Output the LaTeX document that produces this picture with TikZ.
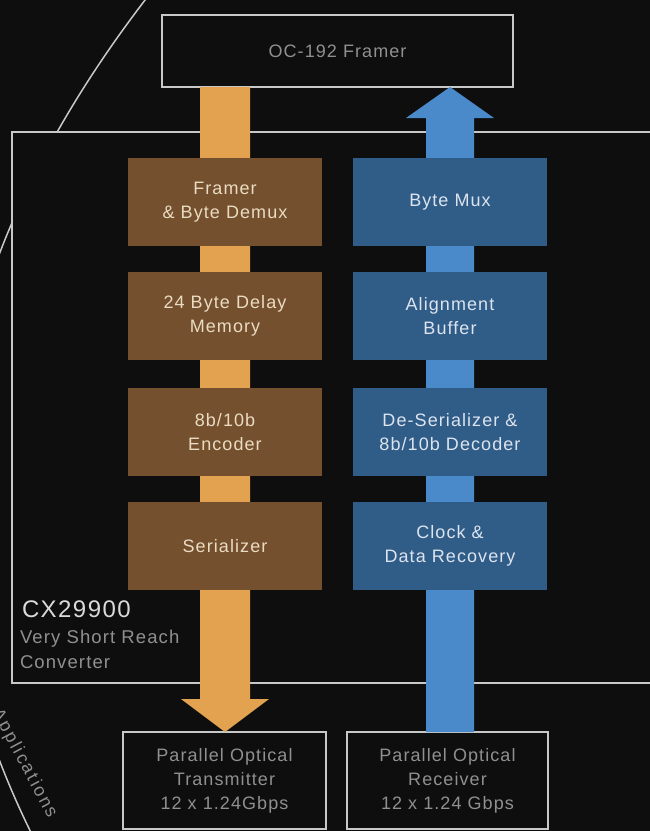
\documentclass[tikz,border=0pt]{standalone}
\usepackage{fontspec}
\setmainfont{Liberation Sans}
\newfontfamily\spacedfont[LetterSpace=6]{Liberation Sans}
\newfontfamily\widefont[LetterSpace=12]{Liberation Sans}
\usetikzlibrary{calc}
\pgfdeclarelayer{back}
\pgfdeclarelayer{mid}
\pgfsetlayers{back,mid,main}
\definecolor{bgc}{HTML}{0E0E0E}
\definecolor{linec}{HTML}{C8C8C8}
\definecolor{brownc}{HTML}{74502E}
\definecolor{browntext}{HTML}{EADCC2}
\definecolor{orangec}{HTML}{E2A24F}
\definecolor{bluec}{HTML}{305C88}
\definecolor{bluetext}{HTML}{DCE4EE}
\definecolor{bluearrowc}{HTML}{4A8ACB}
\definecolor{grayc}{HTML}{909090}
\definecolor{lightgrayc}{HTML}{DADADA}
\begin{document}
\begin{tikzpicture}[x=1pt,y=-1pt,
  every node/.style={inner sep=0pt, outer sep=0pt},
  outlinebox/.style={draw=linec, line width=1.3pt, fill=bgc},
  blockbox/.style={minimum width=194pt, minimum height=88pt, align=center,
    font=\spacedfont\fontsize{18}{24}\selectfont},
  brownbox/.style={blockbox, fill=brownc, text=browntext},
  bluebox/.style={blockbox, fill=bluec, text=bluetext},
  graylabel/.style={text=grayc, align=center, font=\spacedfont\fontsize{18}{24}\selectfont},
]
\useasboundingbox (0,0) rectangle (650,831);
\begin{pgfonlayer}{back}
\fill[bgc] (0,0) rectangle (650,831);
\begin{scope}
  \clip (0,0) rectangle (650,831);
  \draw[linec, line width=1.5pt] plot[domain=-5.3:3.5, samples=80, smooth] ({-49+7.55*\x*\x}, {507+100*\x});
  \node[rotate=-62, anchor=mid west, text=grayc, font=\widefont\fontsize{18}{20}\selectfont] (apps) at (-6,711) {Applications};
  \node[outlinebox, anchor=north west, minimum width=690pt, minimum height=551pt] (chip) at (12,132) {};
\end{scope}
\node[outlinebox, minimum width=351pt, minimum height=72pt, graylabel] (oc) at (337.5,51) {OC-192 Framer};
\node[outlinebox, minimum width=203pt, minimum height=97pt, graylabel] (tx) at (224.5,780.5) {Parallel Optical\\Transmitter\\12 x 1.24Gbps};
\node[outlinebox, minimum width=201pt, minimum height=97pt, graylabel] (rx) at (447.5,780.5) {Parallel Optical\\Receiver\\12 x 1.24 Gbps};
\end{pgfonlayer}

% blocks
\node[brownbox] (fr) at (225,202) {Framer\\\& Byte Demux};
\node[brownbox] (dl) at (225,316) {24 Byte Delay\\Memory};
\node[brownbox] (en) at (225,432) {8b/10b\\Encoder};
\node[brownbox] (se) at (225,546) {Serializer};
\node[bluebox] (bm) at (450,202) {Byte Mux};
\node[bluebox] (ab) at (450,316) {Alignment\\Buffer};
\node[bluebox] (de) at (450,432) {De-Serializer \&\\8b/10b Decoder};
\node[bluebox] (cd) at (450,546) {Clock \&\\Data Recovery};

% arrows behind the blocks
\begin{pgfonlayer}{mid}
\coordinate (oa) at (fr.north |- oc.south);
\coordinate (ob) at (fr.south |- tx.north);
\coordinate (ba) at (bm.north |- oc.south);
\coordinate (bb) at (bm.south |- rx.north);
\fill[orangec] ($(oa)+(-25,0)$) -- ($(oa)+(25,0)$) -- ($(ob)+(25,-33)$) -- ($(ob)+(44,-33)$)
  -- (ob) -- ($(ob)+(-44,-33)$) -- ($(ob)+(-25,-33)$) -- cycle;
\fill[bluearrowc] ($(bb)+(-24,0)$) -- ($(bb)+(24,0)$) -- ($(ba)+(24,31)$) -- ($(ba)+(44,31)$)
  -- (ba) -- ($(ba)+(-44,31)$) -- ($(ba)+(-24,31)$) -- cycle;
\end{pgfonlayer}

% chip label
\node[anchor=base west, text=lightgrayc, font=\spacedfont\fontsize{24}{26}\selectfont] (cx) at (22,617) {CX29900};
\node[anchor=base west, text=grayc, font=\spacedfont\fontsize{18.5}{25}\selectfont] (vsr) at (20,643) {Very Short Reach};
\node[anchor=base west, text=grayc, font=\spacedfont\fontsize{18.5}{25}\selectfont] (conv) at (20,668) {Converter};
\end{tikzpicture}
\end{document}
